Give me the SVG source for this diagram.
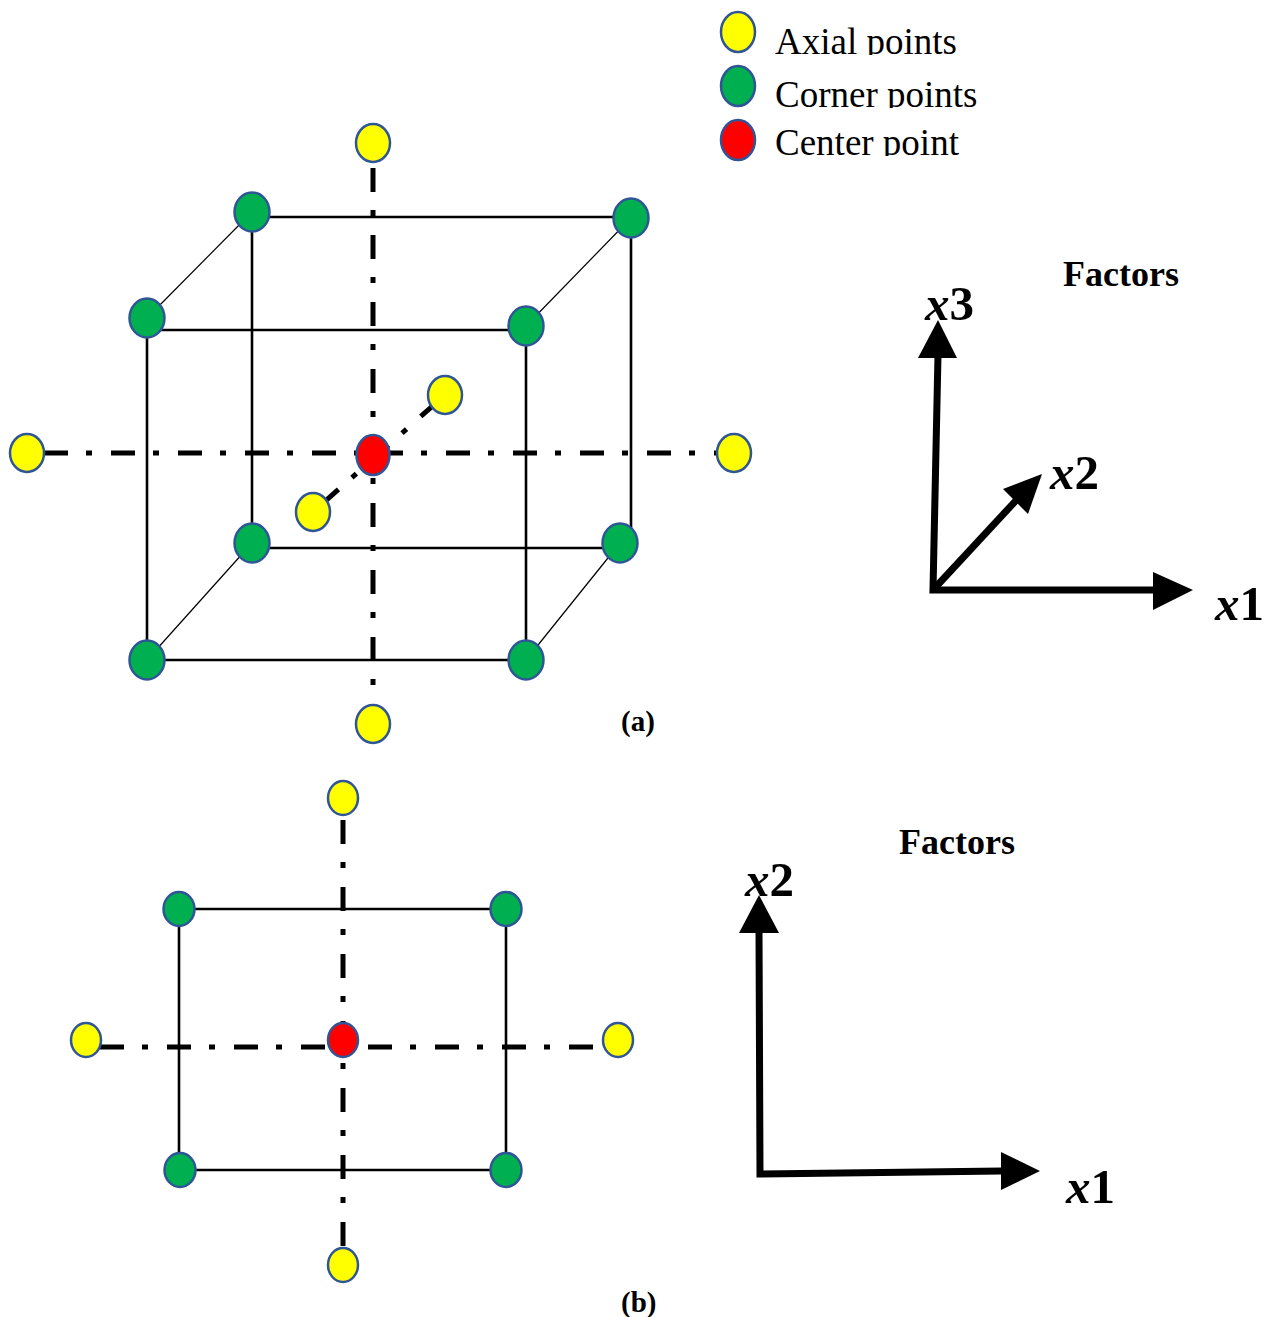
<svg xmlns="http://www.w3.org/2000/svg" width="1272" height="1317" viewBox="0 0 1272 1317">
<style>
.edge{stroke:#000;stroke-width:2.6;fill:none}
.thin{stroke:#000;stroke-width:1.2;fill:none}
.axis{stroke:#000;stroke-width:5;fill:none;stroke-dasharray:24 18 6 19}
.arr{stroke:#000;stroke-width:7;fill:none}
.pt{stroke:#2F5597;stroke-width:2.5}
.ax{fill:#FFFF00}.co{fill:#00B050}.ce{fill:#FF0000}
.leg{font-family:"Liberation Serif",serif;font-size:37px;fill:#000}
.bold{font-family:"Liberation Serif",serif;font-weight:bold;fill:#000}
.math{font-family:"Liberation Serif",serif;font-weight:bold;font-size:49px;fill:#000}
.it{font-style:italic}
</style>
<defs>
<clipPath id="c1"><rect x="760" y="0" width="260" height="55"/></clipPath>
<clipPath id="c2"><rect x="760" y="60" width="260" height="48"/></clipPath>
<clipPath id="c3"><rect x="760" y="115" width="260" height="41"/></clipPath>
</defs>
<rect width="1272" height="1317" fill="#fff"/>

<g id="connectors">
  <!-- cube (a) -->
  <line class="edge" x1="252" y1="217" x2="631" y2="217"/>
  <line class="edge" x1="252" y1="212" x2="252" y2="548"/>
  <line class="edge" x1="631" y1="218" x2="631" y2="530"/>
  <line class="edge" x1="252" y1="548" x2="620" y2="548"/>
  <line class="edge" x1="147" y1="330" x2="526" y2="330"/>
  <line class="edge" x1="147" y1="318" x2="147" y2="660"/>
  <line class="edge" x1="526" y1="326" x2="526" y2="660"/>
  <line class="edge" x1="147" y1="660" x2="526" y2="660"/>
  <line class="thin" x1="252" y1="212" x2="147" y2="318"/>
  <line class="thin" x1="631" y1="218" x2="526" y2="326"/>
  <line class="thin" x1="252" y1="543" x2="147" y2="660"/>
  <line class="thin" x1="620" y1="543" x2="526" y2="660"/>
  <line class="axis" x1="44" y1="453" x2="720" y2="453"/>
  <line class="axis" x1="373" y1="168" x2="373" y2="700"/>
  <line class="axis" x1="313" y1="512" x2="445" y2="395" stroke-dashoffset="-10"/>
  <!-- square (b) -->
  <line class="edge" x1="179" y1="909" x2="506" y2="909"/>
  <line class="edge" x1="179" y1="909" x2="179" y2="1170"/>
  <line class="edge" x1="506" y1="909" x2="506" y2="1170"/>
  <line class="edge" x1="180" y1="1170" x2="506" y2="1170"/>
  <line class="axis" x1="100" y1="1047" x2="603" y2="1047"/>
  <line class="axis" x1="343" y1="820" x2="343" y2="1255"/>
  <!-- factor axes (a) -->
  <polyline class="arr" points="938,355 933,590 1155,590"/>
  <line class="arr" x1="933" y1="590" x2="1022" y2="494"/>
  <polygon points="938,320 918,358 957,358" fill="#000"/>
  <polygon points="1193,590 1153,572 1153,610" fill="#000"/>
  <polygon points="1042,474 1003,489 1028,514" fill="#000"/>
  <!-- factor axes (b) -->
  <polyline class="arr" points="759,930 760,1174 1002,1171"/>
  <polygon points="759,895 739,933 779,933" fill="#000"/>
  <polygon points="1040,1171 1001,1152 1001,1190" fill="#000"/>
</g>

<g id="legend">
  <g id="leg-axial"><ellipse class="pt ax" cx="738" cy="32" rx="17" ry="20"/><text class="leg" x="775" y="54" clip-path="url(#c1)">Axial points</text></g>
  <g id="leg-corner"><ellipse class="pt co" cx="738" cy="86" rx="17" ry="20"/><text class="leg" x="775" y="107" clip-path="url(#c2)">Corner points</text></g>
  <g id="leg-center"><ellipse class="pt ce" cx="738" cy="140" rx="17" ry="20"/><text class="leg" x="775" y="155" clip-path="url(#c3)">Center point</text></g>
</g>

<g id="nodes-a">
  <g id="a-axial-top"><ellipse class="pt ax" cx="373" cy="143" rx="17" ry="19"/></g>
  <g id="a-axial-bottom"><ellipse class="pt ax" cx="373" cy="724" rx="17" ry="19"/></g>
  <g id="a-axial-left"><ellipse class="pt ax" cx="27" cy="453" rx="17" ry="19"/></g>
  <g id="a-axial-right"><ellipse class="pt ax" cx="734" cy="453" rx="17" ry="19"/></g>
  <g id="a-axial-back"><ellipse class="pt ax" cx="445" cy="395" rx="17" ry="19"/></g>
  <g id="a-axial-front"><ellipse class="pt ax" cx="313" cy="512" rx="17" ry="19"/></g>
  <g id="a-center"><ellipse class="pt ce" cx="373" cy="455" rx="16.5" ry="20"/></g>
  <g id="a-btl"><ellipse class="pt co" cx="252" cy="212" rx="17.5" ry="19.5"/></g>
  <g id="a-btr"><ellipse class="pt co" cx="631" cy="218" rx="17.5" ry="19.5"/></g>
  <g id="a-bbl"><ellipse class="pt co" cx="252" cy="543" rx="17.5" ry="19.5"/></g>
  <g id="a-bbr"><ellipse class="pt co" cx="620" cy="543" rx="17.5" ry="19.5"/></g>
  <g id="a-ftl"><ellipse class="pt co" cx="147" cy="318" rx="17.5" ry="19.5"/></g>
  <g id="a-ftr"><ellipse class="pt co" cx="526" cy="326" rx="17.5" ry="19.5"/></g>
  <g id="a-fbl"><ellipse class="pt co" cx="147" cy="660" rx="17.5" ry="19.5"/></g>
  <g id="a-fbr"><ellipse class="pt co" cx="526" cy="660" rx="17.5" ry="19.5"/></g>
</g>

<g id="nodes-b">
  <g id="b-axial-top"><ellipse class="pt ax" cx="343" cy="798" rx="15" ry="17"/></g>
  <g id="b-axial-bottom"><ellipse class="pt ax" cx="343" cy="1265" rx="15" ry="17"/></g>
  <g id="b-axial-left"><ellipse class="pt ax" cx="86" cy="1040" rx="15" ry="17"/></g>
  <g id="b-axial-right"><ellipse class="pt ax" cx="618" cy="1040" rx="15" ry="17"/></g>
  <g id="b-center"><ellipse class="pt ce" cx="343" cy="1040" rx="15" ry="17"/></g>
  <g id="b-tl"><ellipse class="pt co" cx="179" cy="909" rx="15.5" ry="17"/></g>
  <g id="b-tr"><ellipse class="pt co" cx="506" cy="909" rx="15.5" ry="17"/></g>
  <g id="b-bl"><ellipse class="pt co" cx="180" cy="1170" rx="15.5" ry="17"/></g>
  <g id="b-br"><ellipse class="pt co" cx="506" cy="1170" rx="15.5" ry="17"/></g>
</g>

<g id="labels">
  <text class="bold" x="1063" y="286" font-size="36">Factors</text>
  <text class="math" x="925" y="320"><tspan class="it">x</tspan>3</text>
  <text class="math" x="1050" y="489"><tspan class="it">x</tspan>2</text>
  <text class="math" x="1215" y="620"><tspan class="it">x</tspan>1</text>
  <text class="bold" x="621" y="731" font-size="29">(a)</text>
  <text class="bold" x="899" y="854" font-size="36">Factors</text>
  <text class="math" x="745" y="896"><tspan class="it">x</tspan>2</text>
  <text class="math" x="1066" y="1203"><tspan class="it">x</tspan>1</text>
  <text class="bold" x="621" y="1312" font-size="29">(b)</text>
</g>
</svg>
